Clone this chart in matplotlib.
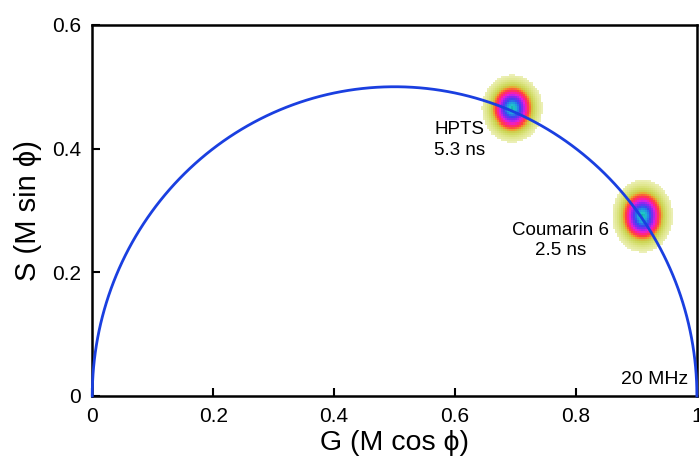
import matplotlib
matplotlib.use("Agg")
import matplotlib.pyplot as plt
import numpy as np
from matplotlib.colors import LinearSegmentedColormap

plt.rcParams['font.family'] = ['Liberation Sans', 'DejaVu Sans']

# clusters: centre (G, S) and outer extent
names = ["HPTS\n5.3 ns", "Coumarin 6\n2.5 ns"]
centre_g = [0.695, 0.910]
centre_s = [0.465, 0.291]
extent_g = [0.050, 0.050]
extent_s = [0.055, 0.059]
label_g = [0.608, 0.775]
label_s = [0.414, 0.252]

x_ticks = [0, 0.2, 0.4, 0.6, 0.8, 1.0]
x_labels = ["0", "0.2", "0.4", "0.6", "0.8", "1"]
y_ticks = [0, 0.2, 0.4, 0.6]
y_labels = ["0", "0.2", "0.4", "0.6"]

fig = plt.figure(figsize=(6.99, 4.61), dpi=100)
ax = fig.add_axes([0.132, 0.141, 0.865, 0.805])

# phasor density as a binned grid
edges_g = np.arange(0, 1.0001, 0.0033)
edges_s = np.arange(0, 0.6001, 0.0033)
gg, ss = np.meshgrid((edges_g[:-1] + edges_g[1:]) / 2, (edges_s[:-1] + edges_s[1:]) / 2)
dens = np.zeros_like(gg)
for cg, cs, eg, es in zip(centre_g, centre_s, extent_g, extent_s):
    r = np.sqrt(((gg - cg) / eg) ** 2 + ((ss - cs) / es) ** 2)
    dens = np.maximum(dens, 1 - r)
dens = np.ma.masked_less_equal(dens, 0)

cmap = LinearSegmentedColormap.from_list("phasor", [
    (0.0, "#ecf0b8"), (0.15, "#dfe68c"), (0.28, "#cdd85a"), (0.34, "#d2c444"),
    (0.38, "#f29a2c"), (0.45, "#ff4040"), (0.52, "#ff2090"), (0.58, "#e020e0"),
    (0.65, "#8a28f0"), (0.74, "#3848f0"), (0.83, "#2098e0"), (0.92, "#20c8c8"),
    (1.0, "#10a8a0")])
ax.pcolormesh(edges_g, edges_s, dens, cmap=cmap, vmin=0, vmax=1, zorder=1)

# universal semicircle
theta = np.linspace(0, np.pi, 400)
ax.plot(0.5 + 0.5 * np.cos(theta), 0.5 * np.sin(theta), color="#1a3fe0", lw=2, zorder=3, clip_on=False)

for name, lg, ls in zip(names, label_g, label_s):
    ax.text(lg, ls, name, ha="center", va="center", fontsize=13.5, linespacing=1.25, zorder=4)
ax.text(0.93, 0.026, "20 MHz", ha="center", va="center", fontsize=14, zorder=4)

ax.set_xlim(0, 1)
ax.set_ylim(0, 0.6)
ax.set_xticks(x_ticks)
ax.set_xticklabels(x_labels)
ax.set_yticks(y_ticks)
ax.set_yticklabels(y_labels)
ax.tick_params(direction="in", length=6, width=1.5, labelsize=15, pad=8)
for sp in ax.spines.values():
    sp.set_linewidth(1.8)
ax.set_xlabel("G (M cos \u03d5)", fontsize=20.5, labelpad=3)
ax.set_ylabel("S (M sin \u03d5)", fontsize=21, labelpad=7)

fig.savefig("out.png", dpi=100)
